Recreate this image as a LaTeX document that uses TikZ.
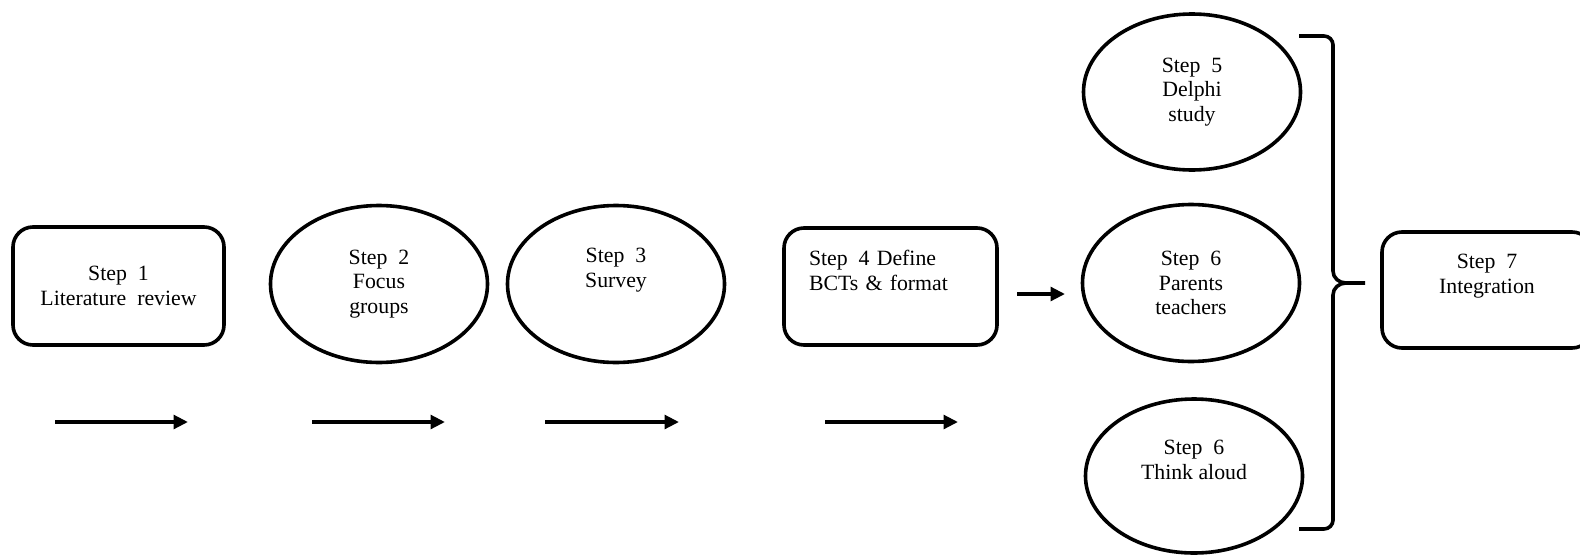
\documentclass[tikz,border=0pt]{standalone}
\usepackage{fontspec}
\setmainfont{Liberation Serif}
\usetikzlibrary{arrows.meta,shapes.geometric}

\begin{document}
\begin{tikzpicture}
    %[x=1px,y=-1px] style grid, every step sits at its pixel spot
    [x=0.25mm,y=-0.25mm,line width=0.9mm,>={Triangle[length=3.6mm,width=3.4mm]},
     every node/.style={font=\fontsize{15.5}{17.6}\selectfont},
     stepbox/.style={rectangle,rounded corners=5mm,draw,inner sep=0pt,align=center,
       minimum width=52.75mm,minimum height=29.5mm},
     stepoval/.style={ellipse,draw,inner sep=0pt,align=center,
       minimum width=54.25mm,minimum height=39.25mm}]
    \useasboundingbox (0,0) rectangle (1580,555);

    \node[stepbox] (s1) at (118.5,286) {Step\ \ 1\\Literature\ \ review};
    \node[stepoval] (s2) at (379,284) {Step\ \ 2\\Focus\\groups};
    \node[stepoval] (s3) at (616,284) {Step\ \ 3\\Survey\\\strut};
    \node[stepbox,minimum width=53.25mm,minimum height=29.25mm,
      text width=40.75mm,inner xsep=6.25mm,align=left] (s4) at (890.5,286.5)
      {Step\ \,4 Define\\BCTs \& format\\\strut};
    \node[stepoval,minimum height=39mm] (s5) at (1192,92) {Step\ \ 5\\Delphi\\study};
    \node[stepoval] (s6) at (1191,283) {Step\ \ 6\\Parents\\teachers};
    \node[stepoval,minimum height=38.5mm] (s6b) at (1194,476) {Step\ \ 6\\Think aloud\\\strut};
    \node[stepbox,minimum width=52.5mm,minimum height=29mm] (s7) at (1487,290)
      {Step\ \ 7\\Integration\\\strut};

    % arrows under the first steps
    \foreach \xa/\xb [count=\i] in {55/188,312/445,545/679,825/958} {
      \coordinate (a\i) at (\xa,422);
      \coordinate (b\i) at (\xb,422);
      \draw[->] (a\i) -- (b\i);
    }
    \coordinate (a5) at (1017,294);
    \coordinate (b5) at (1065,294);
    \draw[->] (a5) -- (b5);

    % bracket joining steps 5 and 6 into step 7
    \coordinate (bt) at (1299,36);
    \coordinate (bb) at (1299,529);
    \coordinate (bm) at (1365,283);
    \draw (bt) -- (1324,36) to[out=0,in=90] (1333,45) -- (1333,271)
      to[out=-90,in=180] (1346,283) -- (bm);
    \draw (bb) -- (1324,529) to[out=0,in=-90] (1333,520) -- (1333,295)
      to[out=90,in=180] (1346,283);
  \end{tikzpicture}
\end{document}
